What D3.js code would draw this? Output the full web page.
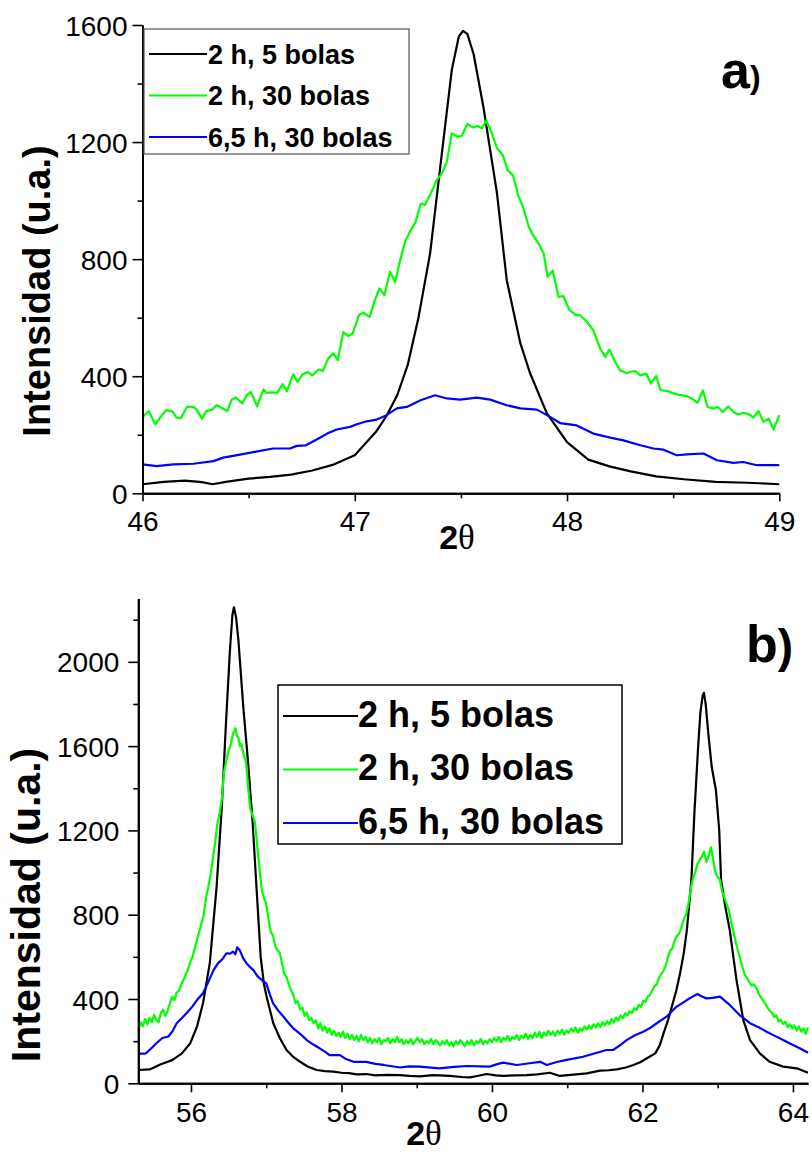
<!DOCTYPE html>
<html><head><meta charset="utf-8">
<script src="https://cdn.jsdelivr.net/npm/d3@7"></script>
<style>
html,body{margin:0;padding:0;background:#fff;}
svg text{font-family:"Liberation Sans",Arial,sans-serif;}
</style></head>
<body>
<svg id="chart" width="812" height="1154"></svg>
<script>
// ---------- DATA ----------
const seriesNames = ["2 h, 5 bolas", "2 h, 30 bolas", "6,5 h, 30 bolas"];
const seriesColors = ["#000000", "#00ff00", "#0000ff"];

// Panel a) ticks
const aXTicks = [46, 47, 48, 49];
const aXMinor = [46.5, 47.5, 48.5];
const aYTicks = [0, 400, 800, 1200, 1600];
const aYMinor = [200, 600, 1000, 1400];

// Panel b) ticks
const bXTicks = [56, 58, 60, 62, 64];
const bXMinor = [57, 59, 61, 63];
const bYTicks = [0, 400, 800, 1200, 1600, 2000];
const bYMinor = [200, 600, 1000, 1400, 1800, 2200];

// Panel a) series [2theta, intensity]
const a_2h5 = [[46.00,31],[46.10,39],[46.20,43],[46.28,38],[46.33,31],[46.40,40],[46.50,50],[46.60,56],[46.70,64],[46.80,78],[46.90,98],[47.00,130],[47.10,210],[47.15,265],[47.20,335],[47.25,440],[47.30,600],[47.355,820],[47.41,1160],[47.457,1446],[47.49,1560],[47.51,1580],[47.53,1570],[47.56,1500],[47.606,1320],[47.67,1025],[47.716,728],[47.78,513],[47.826,410],[47.905,273],[48.00,175],[48.10,115],[48.20,92],[48.30,75],[48.42,58],[48.55,48],[48.70,39],[48.85,36],[49.00,31]];
const a_2h30 = [[46.00,261],[46.03,281],[46.06,236],[46.11,284],[46.14,281],[46.16,259],[46.18,256],[46.21,295],[46.24,295],[46.255,286],[46.28,255],[46.30,281],[46.33,286],[46.35,301],[46.40,281],[46.42,320],[46.44,327],[46.47,307],[46.49,335],[46.51,346],[46.54,297],[46.57,355],[46.585,343],[46.61,345],[46.635,343],[46.66,373],[46.68,348],[46.71,407],[46.73,381],[46.755,407],[46.78,414],[46.80,403],[46.83,423],[46.85,418],[46.875,461],[46.90,478],[46.92,455],[46.946,551],[46.97,537],[46.99,546],[47.02,609],[47.04,617],[47.07,603],[47.095,660],[47.116,700],[47.14,677],[47.166,757],[47.19,722],[47.215,800],[47.237,859],[47.26,895],[47.284,922],[47.311,990],[47.33,985],[47.355,1019],[47.386,1070],[47.41,1093],[47.434,1133],[47.457,1230],[47.484,1218],[47.504,1221],[47.53,1262],[47.556,1250],[47.578,1255],[47.598,1247],[47.62,1273],[47.646,1230],[47.67,1179],[47.697,1156],[47.72,1104],[47.745,1087],[47.77,1019],[47.795,973],[47.82,910],[47.84,882],[47.865,854],[47.89,820],[47.908,740],[47.933,760],[47.96,671],[47.983,674],[48.01,628],[48.04,609],[48.06,609],[48.093,586],[48.124,557],[48.156,495],[48.18,466],[48.20,491],[48.227,449],[48.25,420],[48.28,411],[48.32,418],[48.345,403],[48.373,409],[48.395,375],[48.42,401],[48.44,352],[48.47,350],[48.517,338],[48.565,332],[48.596,320],[48.615,309],[48.64,352],[48.662,295],[48.69,290],[48.71,295],[48.734,278],[48.76,297],[48.784,278],[48.808,269],[48.83,275],[48.855,270],[48.878,259],[48.902,281],[48.925,244],[48.95,255],[48.973,218],[49.00,267]];
const a_65h30 = [[46.00,99],[46.067,93],[46.145,99],[46.24,101],[46.334,110],[46.38,122],[46.46,132],[46.554,145],[46.616,153],[46.695,153],[46.727,162],[46.77,164],[46.836,190],[46.87,204],[46.915,218],[46.978,227],[47.01,236],[47.056,246],[47.104,252],[47.15,267],[47.198,290],[47.245,295],[47.31,318],[47.378,335],[47.434,324],[47.496,320],[47.575,327],[47.638,320],[47.716,301],[47.78,290],[47.858,286],[47.92,261],[47.967,240],[48.046,232],[48.124,204],[48.203,190],[48.266,181],[48.345,164],[48.407,153],[48.454,149],[48.517,130],[48.565,133],[48.643,136],[48.706,113],[48.784,104],[48.83,107],[48.894,96],[49.00,96]];

// Panel b) series
const b_2h5 = [[55.3,63],[55.45,66],[55.6,90],[55.75,110],[55.88,142],[55.99,190],[56.08,269],[56.16,380],[56.25,570],[56.34,930],[56.41,1312],[56.465,1708],[56.518,2056],[56.55,2220],[56.571,2259],[56.6,2210],[56.63,2104],[56.695,1787],[56.76,1518],[56.82,1234],[56.873,917],[56.926,601],[56.97,470],[57.006,410],[57.094,285],[57.18,215],[57.27,158],[57.36,125],[57.45,102],[57.55,80],[57.67,63],[57.78,58],[57.89,55],[58.0,50],[58.1,48],[58.2,42],[58.33,44],[58.45,38],[58.6,40],[58.78,39],[58.9,35],[59.04,33],[59.22,39],[59.44,35],[59.6,30],[59.71,28],[59.82,36],[59.93,44],[60.05,38],[60.15,35],[60.3,38],[60.46,39],[60.6,42],[60.77,50],[60.9,35],[61.05,40],[61.26,47],[61.435,60],[61.55,62],[61.66,66],[61.78,75],[61.88,87],[61.97,100],[62.06,119],[62.17,142],[62.23,180],[62.28,237],[62.34,300],[62.39,363],[62.45,440],[62.5,522],[62.55,620],[62.59,727],[62.65,965],[62.69,1281],[62.74,1597],[62.77,1760],[62.8,1840],[62.817,1853],[62.84,1800],[62.875,1661],[62.92,1502],[62.976,1392],[63.02,1202],[63.045,965],[63.1,840],[63.16,727],[63.25,490],[63.34,300],[63.43,205],[63.56,142],[63.69,102],[63.87,79],[64.05,71],[64.2,50]];
const b_2h30 = [[55.30,250],[55.33,290],[55.36,270],[55.39,305],[55.42,280],[55.45,310],[55.48,290],[55.51,325],[55.54,300],[55.57,290],[55.60,335],[55.63,350],[55.66,320],[55.69,345],[55.72,380],[55.75,410],[55.78,395],[55.81,430],[55.84,440],[55.87,470],[55.90,490],[55.93,515],[55.96,540],[55.99,575],[56.02,600],[56.05,640],[56.08,680],[56.11,720],[56.14,760],[56.17,800],[56.20,880],[56.23,930],[56.26,990],[56.29,1060],[56.32,1140],[56.35,1230],[56.38,1280],[56.41,1350],[56.44,1480],[56.47,1530],[56.50,1580],[56.53,1610],[56.56,1660],[56.59,1685],[56.61,1650],[56.63,1640],[56.65,1600],[56.67,1610],[56.70,1560],[56.73,1530],[56.76,1400],[56.79,1300],[56.82,1270],[56.85,1240],[56.88,1130],[56.91,1020],[56.94,920],[56.97,880],[57.00,850],[57.03,780],[57.06,720],[57.09,700],[57.12,650],[57.15,630],[57.18,620],[57.21,570],[57.24,520],[57.27,505],[57.30,470],[57.33,440],[57.36,420],[57.39,380],[57.42,390],[57.45,350],[57.48,360],[57.51,320],[57.54,335],[57.57,300],[57.60,310],[57.63,285],[57.66,300],[57.69,260],[57.72,285],[57.75,250],[57.78,270],[57.81,240],[57.84,260],[57.87,230],[57.90,250],[57.93,225],[57.96,240],[57.99,220],[58.02,245],[58.05,215],[58.08,235],[58.11,210],[58.14,230],[58.17,205],[58.20,225],[58.23,200],[58.26,230],[58.29,205],[58.32,220],[58.35,195],[58.38,215],[58.41,190],[58.44,210],[58.47,195],[58.50,215],[58.53,185],[58.56,205],[58.59,200],[58.62,215],[58.65,190],[58.68,210],[58.71,195],[58.74,220],[58.77,195],[58.80,210],[58.83,185],[58.86,205],[58.89,190],[58.92,210],[58.95,185],[58.98,200],[59.01,215],[59.04,195],[59.07,210],[59.10,185],[59.13,200],[59.16,190],[59.19,210],[59.22,185],[59.25,205],[59.28,195],[59.31,180],[59.34,200],[59.37,185],[59.40,205],[59.43,180],[59.46,195],[59.49,175],[59.52,200],[59.55,185],[59.58,205],[59.61,190],[59.64,175],[59.67,200],[59.70,185],[59.73,205],[59.76,180],[59.79,200],[59.82,190],[59.85,210],[59.88,185],[59.91,200],[59.94,190],[59.97,210],[60.00,195],[60.03,215],[60.06,200],[60.09,220],[60.12,195],[60.15,215],[60.18,205],[60.21,225],[60.24,200],[60.27,220],[60.30,210],[60.33,230],[60.36,205],[60.39,225],[60.42,215],[60.45,235],[60.48,210],[60.51,230],[60.54,215],[60.57,240],[60.60,220],[60.63,245],[60.66,215],[60.69,240],[60.72,225],[60.75,250],[60.78,230],[60.81,245],[60.84,225],[60.87,250],[60.90,235],[60.93,255],[60.96,230],[60.99,250],[61.02,240],[61.05,260],[61.08,245],[61.11,265],[61.14,240],[61.17,260],[61.20,250],[61.23,270],[61.26,255],[61.29,275],[61.32,258],[61.35,280],[61.38,265],[61.41,285],[61.44,268],[61.47,290],[61.50,275],[61.53,295],[61.56,280],[61.59,305],[61.62,288],[61.65,312],[61.68,298],[61.71,322],[61.74,308],[61.77,332],[61.80,322],[61.83,342],[61.86,332],[61.89,357],[61.92,347],[61.95,372],[61.98,362],[62.01,392],[62.04,387],[62.07,410],[62.10,420],[62.13,440],[62.16,462],[62.19,470],[62.22,500],[62.25,520],[62.28,532],[62.31,560],[62.34,600],[62.37,630],[62.40,642],[62.43,680],[62.46,700],[62.49,712],[62.52,742],[62.55,780],[62.58,800],[62.61,850],[62.64,920],[62.67,970],[62.70,1000],[62.73,1040],[62.76,1060],[62.79,1075],[62.82,1100],[62.85,1050],[62.88,1080],[62.91,1120],[62.94,1060],[62.97,1000],[63.00,980],[63.03,965],[63.06,910],[63.09,880],[63.12,850],[63.15,820],[63.18,760],[63.21,720],[63.24,670],[63.27,630],[63.30,590],[63.33,550],[63.36,515],[63.39,500],[63.42,480],[63.45,465],[63.48,470],[63.51,455],[63.54,430],[63.57,410],[63.60,395],[63.63,380],[63.66,360],[63.69,345],[63.72,335],[63.75,315],[63.78,322],[63.81,292],[63.84,302],[63.87,282],[63.90,292],[63.93,266],[63.96,280],[63.99,260],[64.02,275],[64.05,250],[64.08,270],[64.11,245],[64.14,260],[64.17,235],[64.20,265]];
const b_65h30 = [[55.30,140],[55.40,142],[55.47,165],[55.54,190],[55.62,215],[55.70,222],[55.76,250],[55.81,285],[55.88,310],[55.94,332],[56.02,365],[56.08,395],[56.16,427],[56.23,480],[56.30,537],[56.36,570],[56.42,590],[56.47,617],[56.52,615],[56.56,625],[56.59,612],[56.615,645],[56.65,630],[56.695,593],[56.74,569],[56.79,550],[56.83,537],[56.88,510],[56.94,490],[57.00,474],[57.05,420],[57.09,380],[57.16,345],[57.23,316],[57.30,285],[57.36,261],[57.45,235],[57.54,205],[57.62,185],[57.71,166],[57.78,150],[57.84,134],[57.98,134],[58.06,115],[58.16,102],[58.33,102],[58.45,92],[58.56,87],[58.78,75],[58.90,80],[59.04,79],[59.30,71],[59.50,78],[59.66,82],[59.97,79],[60.08,92],[60.15,98],[60.33,87],[60.50,95],[60.64,102],[60.73,87],[60.85,100],[60.99,111],[61.10,118],[61.21,126],[61.35,140],[61.52,158],[61.61,158],[61.70,180],[61.79,205],[61.90,228],[62.01,245],[62.10,262],[62.19,285],[62.32,316],[62.45,363],[62.59,395],[62.66,410],[62.73,424],[62.79,412],[62.85,403],[62.93,405],[63.03,411],[63.10,390],[63.16,372],[63.29,324],[63.43,285],[63.55,265],[63.65,245],[63.76,225],[63.87,205],[63.98,185],[64.09,166],[64.20,145]];

// ---------- DRAW ----------
const svg = d3.select("#chart");
svg.append("rect").attr("width",812).attr("height",1154).attr("fill","#fff");

function panel(cfg){
  const x = d3.scaleLinear().domain(cfg.xDomain).range(cfg.xRange);
  const y = d3.scaleLinear().domain(cfg.yDomain).range(cfg.yRange);
  const g = svg.append("g");
  const line = d3.line().x(d=>x(d[0])).y(d=>y(d[1]));
  cfg.series.forEach((s,i)=>{
    g.append("path").datum(s).attr("d",line).attr("fill","none")
      .attr("stroke",seriesColors[i]).attr("stroke-width",2.2).attr("stroke-linejoin","round");
  });
  // axes
  const xb = y(cfg.yDomain[0]), yl = x(cfg.xDomain[0]);
  const xAxis = d3.axisBottom(x).tickValues(cfg.xTicks).tickFormat(d3.format("d")).tickSize(cfg.xTickLen).tickPadding(cfg.xPad).tickSizeOuter(0);
  const xAxisMinor = d3.axisBottom(x).tickValues(cfg.xMinor).tickFormat("").tickSize(5).tickSizeOuter(0);
  const yAxis = d3.axisLeft(y).tickValues(cfg.yTicks).tickFormat(d3.format("d")).tickSize(10).tickPadding(cfg.yPad).tickSizeOuter(0);
  const yAxisMinor = d3.axisLeft(y).tickValues(cfg.yMinor).tickFormat("").tickSize(5).tickSizeOuter(0);
  [xAxis, xAxisMinor].forEach(a=>{
    const ag = g.append("g").attr("transform",`translate(0,${xb})`).call(a);
    ag.select(".domain").attr("stroke-width",2);
    ag.selectAll(".tick line").attr("stroke-width",1.6);
    ag.selectAll("text").attr("font-size",cfg.tickFont).attr("fill","#000");
  });
  [yAxis, yAxisMinor].forEach(a=>{
    const ag = g.append("g").attr("transform",`translate(${yl},0)`).call(a);
    ag.select(".domain").attr("stroke-width",2);
    ag.selectAll(".tick line").attr("stroke-width",1.6);
    ag.selectAll("text").attr("font-size",cfg.tickFont).attr("fill","#000").attr("dy","0.36em");
  });
  g.selectAll(".domain").attr("stroke","#000");
  // y label
  g.append("text").attr("transform",`translate(${cfg.yLab[0]},${cfg.yLab[1]}) rotate(-90)`)
    .attr("text-anchor","middle").attr("font-weight","bold").attr("font-size",cfg.yLabFont)
    .text("Intensidad (u.a.)");
  // x label 2θ
  const xl = g.append("text").attr("x",cfg.xLab[0]).attr("y",cfg.xLab[1]).attr("text-anchor","middle")
    .attr("font-weight","bold").attr("font-size",34);
  xl.append("tspan").text("2");
  xl.append("tspan").attr("font-family","'Liberation Serif','Times New Roman',serif").attr("font-weight","normal").attr("font-size",35).text("θ");
  // panel letter
  const pl = g.append("text").attr("x",cfg.letter.x).attr("y",cfg.letter.y).attr("font-weight","bold");
  pl.append("tspan").attr("font-size",cfg.letter.fs1).text(cfg.letter.t);
  pl.append("tspan").attr("font-size",cfg.letter.fs2).text(")");
  // legend
  const L = cfg.legend;
  g.append("rect").attr("x",L.x).attr("y",L.y).attr("width",L.w).attr("height",L.h)
    .attr("fill","#fff").attr("stroke",L.stroke).attr("stroke-width",L.sw);
  seriesNames.forEach((n,i)=>{
    const yy = L.row0 + i*L.dy;
    g.append("line").attr("x1",L.lx1).attr("x2",L.lx2).attr("y1",yy).attr("y2",yy)
      .attr("stroke",seriesColors[i]).attr("stroke-width",2);
    g.append("text").attr("x",L.tx).attr("y",yy+L.base).attr("font-weight","bold")
      .attr("font-size",L.fs).text(n);
  });
}

panel({
  xDomain:[46,49], xRange:[142.5,779.3], yDomain:[0,1600], yRange:[493.3,25],
  series:[a_2h5,a_2h30,a_65h30],
  xTicks:aXTicks, xMinor:aXMinor, yTicks:aYTicks, yMinor:aYMinor,
  xTickLen:8, xPad:10, yPad:5, tickFont:28,
  yLab:[50,291], yLabFont:38, xLab:[457,549],
  letter:{x:721,y:88,t:"a",fs1:52,fs2:32},
  legend:{x:144,y:29,w:265,h:125,stroke:"#555",sw:1.2,row0:54,dy:41.5,lx1:149,lx2:207,tx:208,base:9.5,fs:27}
});
panel({
  xDomain:[55.3,64.2], xRange:[138.3,808], yDomain:[0,2300], yRange:[1083.3,598.6],
  series:[b_2h5,b_2h30,b_65h30],
  xTicks:bXTicks, xMinor:bXMinor, yTicks:bYTicks, yMinor:bYMinor,
  xTickLen:9, xPad:10, yPad:9, tickFont:28,
  yLab:[39.5,905], yLabFont:41, xLab:[424,1145],
  letter:{x:746,y:662,t:"b",fs1:52,fs2:46},
  legend:{x:278,y:685,w:344,h:159,stroke:"#000",sw:1.5,row0:716,dy:53.5,lx1:283,lx2:358,tx:358,base:10.7,fs:36}
});
</script>
</body></html>
